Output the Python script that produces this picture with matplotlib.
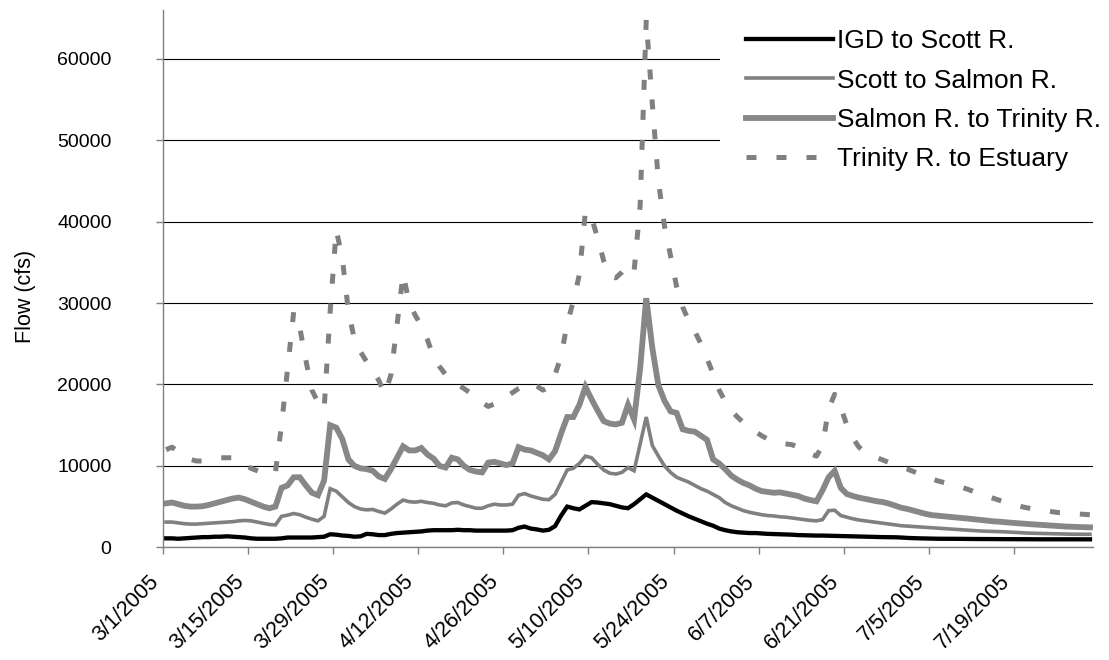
"""
Klamath River accretion flows, 3/1/2005 - 7/31/2005
Daily flow (cfs) for four river reaches, Excel-style line chart.
"""

import numpy as np
import pandas as pd
import matplotlib
matplotlib.use('Agg')
import matplotlib.pyplot as plt
import matplotlib.transforms as mtransforms

plt.rcParams['font.family'] = ['Liberation Sans', 'DejaVu Sans']

# ── Data (daily values, cfs) ────────────────────────────────────
start_date = '2005-03-01'

igd_to_scott = [
    1100, 1100, 1050, 1100, 1150, 1200, 1250, 1250, 1300, 1300,
    1350, 1300, 1250, 1200, 1100, 1050, 1050, 1050, 1050, 1100,
    1200, 1200, 1200, 1200, 1200, 1250, 1300, 1600, 1550, 1450,
    1400, 1300, 1350, 1650, 1600, 1500, 1500, 1650, 1750, 1800,
    1850, 1900, 1950, 2050, 2100, 2100, 2100, 2100, 2150, 2100,
    2100, 2050, 2050, 2050, 2050, 2050, 2050, 2100, 2400, 2550,
    2300, 2200, 2050, 2150, 2600, 3900, 5000, 4800, 4650, 5100,
    5550, 5500, 5400, 5300, 5100, 4900, 4800, 5300, 5900, 6500,
    6100, 5700, 5300, 4900, 4500, 4150, 3800, 3500, 3200, 2900,
    2650, 2300, 2100, 1950, 1850, 1800, 1750, 1750, 1700, 1650,
    1620, 1600, 1580, 1550, 1500, 1480, 1460, 1440, 1440, 1420,
    1400, 1380, 1360, 1340, 1320, 1300, 1280, 1260, 1250, 1240,
    1230, 1200, 1150, 1120, 1100, 1080, 1060, 1050, 1050, 1040,
    1040, 1030, 1030, 1020, 1020, 1010, 1010, 1000, 1000, 1000,
    990, 990, 990, 980, 980, 980, 980, 980, 980, 980,
    980, 980, 980,
]

scott_to_salmon = [
    3100, 3100, 3000, 2900, 2850, 2850, 2900, 2950, 3000, 3050,
    3100, 3150, 3250, 3300, 3250, 3100, 2950, 2800, 2750, 3800,
    3950, 4150, 4000, 3700, 3450, 3250, 3800, 7200, 6900, 6200,
    5500, 5000, 4700, 4600, 4650, 4400, 4200, 4700, 5300, 5800,
    5600, 5550, 5650, 5500, 5400, 5200, 5100, 5450, 5500, 5200,
    5000, 4800, 4800, 5100, 5300, 5200, 5200, 5300, 6400, 6600,
    6300, 6100, 5900, 5850, 6500, 8000, 9500, 9700, 10300, 11200,
    11000, 10200, 9500, 9100, 9000, 9200, 9800, 9400, 12700, 16000,
    12500, 11200, 10000, 9200, 8600, 8300, 8000, 7600, 7200, 6900,
    6500, 6100, 5500, 5100, 4800, 4500, 4300, 4150, 4000, 3900,
    3850, 3750, 3700, 3600, 3500, 3400, 3300, 3250, 3400, 4500,
    4550, 3900, 3700, 3500, 3350, 3250, 3150, 3050, 2950, 2850,
    2750, 2650, 2600, 2550, 2500, 2450, 2400, 2350, 2300, 2250,
    2200, 2150, 2100, 2050, 2000, 1970, 1950, 1930, 1900, 1860,
    1820, 1780, 1740, 1720, 1700, 1680, 1660, 1640, 1620, 1610,
    1600, 1600, 1600,
]

salmon_to_trinity = [
    5400, 5500, 5300, 5100, 5000, 5000, 5050, 5200, 5400, 5600,
    5800, 6000, 6100, 5900, 5600, 5300, 5000, 4800, 5000, 7300,
    7600, 8600, 8600, 7600, 6700, 6400, 8200, 15000, 14700, 13300,
    10800, 10000, 9700, 9600, 9400, 8700, 8400, 9600, 11000, 12400,
    11900, 11900, 12200, 11400, 10900, 10000, 9800, 11000, 10800, 10000,
    9500, 9300, 9200, 10400, 10500, 10300, 10100, 10300, 12300, 12000,
    11900, 11600, 11300, 10800, 11800, 14000, 16000, 16000, 17500, 19700,
    18200, 16800, 15500, 15200, 15100, 15300, 17500, 15700, 22000, 30600,
    24500, 19900, 18000, 16700, 16500, 14500, 14300, 14200, 13700, 13200,
    10800, 10300, 9600, 8800, 8300, 7900, 7600, 7200, 6900, 6800,
    6700, 6750, 6600, 6450, 6300, 6000, 5800, 5650, 7000, 8600,
    9400, 7300, 6550, 6300, 6100, 5950, 5800, 5650, 5550, 5350,
    5100, 4850, 4700, 4500, 4300, 4100, 3950, 3880, 3800, 3730,
    3660, 3600, 3520, 3440, 3360, 3280, 3200, 3150, 3080, 3020,
    2960, 2900, 2850, 2800, 2750, 2700, 2650, 2600, 2550, 2520,
    2490, 2470, 2450,
]

trinity_to_estuary = [
    12000, 12300, 11700, 11200, 10800, 10600, 10600, 10700, 10900, 11000,
    11000, 11000, 10600, 10100, 9700, 9400, 9100, 8900, 9200, 15000,
    22000, 28900, 27000, 23000, 19300, 17800, 16900, 29000, 39000, 35500,
    29000, 25500, 24000, 22800, 21800, 20500, 18800, 21200, 27300, 33600,
    30000, 28500, 27200, 25500, 23400, 22200, 21200, 20500, 20000, 19500,
    19000, 18400, 17800, 17300, 17600, 18000, 18500, 19000, 19500, 19900,
    20200, 19800, 19300, 19700, 21200, 23500, 27500, 30200, 33500, 41300,
    40500, 38000, 35200, 33300, 33100, 33800, 34700, 33900, 42000, 64800,
    54500, 45000, 39500, 35800, 32000, 29500, 27800, 26500, 25000, 23200,
    21300, 19300, 17900, 16800, 16000, 15300, 14700, 14200, 13700, 13300,
    13000, 12800, 12700, 12600, 12300, 11900, 11500, 11200, 12500, 17000,
    18800, 17200, 15000, 13400, 12300, 11700, 11300, 11000, 10700, 10400,
    10100, 9800, 9600, 9300, 9000, 8700, 8400, 8150, 7950, 7750,
    7550, 7350, 7100, 6800, 6550, 6300, 6050, 5800, 5550, 5350,
    5150, 4950, 4800, 4650, 4550, 4450, 4350, 4250, 4200, 4150,
    4100, 4050, 4000,
]

labels = ['IGD to Scott R.', 'Scott to Salmon R.',
          'Salmon R. to Trinity R.', 'Trinity R. to Estuary']

# Excel places each day in the middle of its category slot
dates = pd.date_range(start_date, periods=len(igd_to_scott), freq='D') + pd.Timedelta(hours=12)
tick_dates = pd.date_range(start_date, periods=11, freq='14D')
tick_labels = [f'{d.month}/{d.day}/{d.year}' for d in tick_dates]

# ── Plot ─────────────────────────────────────────────────────────
fig = plt.figure(figsize=(11.09, 6.60), dpi=100)
ax = fig.add_axes([163 / 1109, 1 - 547.3 / 660, (1093 - 163) / 1109, (547.3 - 10) / 660])

ax.plot(dates, igd_to_scott, color='black', lw=3.1, label=labels[0],
        solid_joinstyle='miter')
ax.plot(dates, scott_to_salmon, color='#808080', lw=2.6, label=labels[1],
        solid_joinstyle='miter')
ax.plot(dates, salmon_to_trinity, color='#878787', lw=4.2, label=labels[2],
        solid_joinstyle='miter')
ax.plot(dates, trinity_to_estuary, color='#808080', lw=3.6, label=labels[3],
        dashes=(2.0, 4.0), dash_capstyle='butt')

ax.set_xlim(pd.Timestamp('2005-03-01'), pd.Timestamp('2005-08-01'))
ax.set_ylim(0, 66000)
ax.set_yticks(np.arange(0, 60001, 10000))
ax.set_yticklabels([str(v) for v in range(0, 60001, 10000)], fontsize=14)
ax.set_xticks(tick_dates)
ax.set_xticklabels(tick_labels, fontsize=15.5, rotation=45, ha='right', va='top')

# shift date labels a little left, like Excel does
shift = mtransforms.ScaledTranslation(-6 / 100, 0, fig.dpi_scale_trans)
for lab in ax.get_xticklabels():
    lab.set_transform(lab.get_transform() + shift)

ax.tick_params(axis='x', direction='out', length=5, width=1, color='#808080', pad=12)
ax.tick_params(axis='y', direction='out', length=5, width=1, color='#808080', pad=32)

for side in ['top', 'right']:
    ax.spines[side].set_visible(False)
for side in ['left', 'bottom']:
    ax.spines[side].set_color('#808080')
    ax.spines[side].set_linewidth(1)

ax.yaxis.grid(True, color='black', lw=0.8)
ax.set_axisbelow(True)

ax.set_ylabel('Flow (cfs)', fontsize=15.5)
ax.yaxis.set_label_coords((36 - 163) / 930, 0.466)

leg = ax.legend(loc='upper left', bbox_to_anchor=(720 / 1109, 1 - 3 / 660),
                bbox_transform=fig.transFigure, fontsize=19, frameon=True,
                handlelength=3.3, handletextpad=0.15, labelspacing=0.58,
                borderpad=1.0, borderaxespad=0)
leg.get_frame().set_facecolor('white')
leg.get_frame().set_edgecolor('none')
leg.get_frame().set_alpha(1)

fig.savefig('out.png', dpi=100)
